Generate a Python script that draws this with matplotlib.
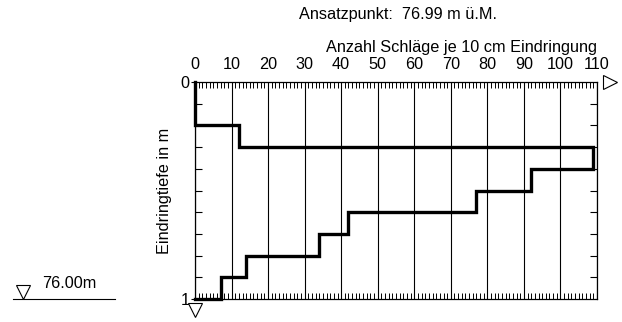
import numpy as np
import matplotlib.pyplot as plt
from matplotlib.ticker import MultipleLocator

plt.rcParams['font.family'] = ['Liberation Sans', 'DejaVu Sans']
plt.rcParams['font.size'] = 11.7

# Schlagzahlen je 10 cm (Tiefe 0.0-1.0 m)
depth_top = [0.0, 0.1, 0.2, 0.3, 0.4, 0.5, 0.6, 0.7, 0.8, 0.9]
depth_bot = [0.1, 0.2, 0.3, 0.4, 0.5, 0.6, 0.7, 0.8, 0.9, 1.0]
blows = [0, 0, 12, 109, 92, 77, 42, 34, 14, 7]
x_ticks = [0, 10, 20, 30, 40, 50, 60, 70, 80, 90, 100, 110]
ansatz = 'Ansatzpunkt:  76.99 m ü.M.'
endhoehe = '76.00m'

fig = plt.figure(figsize=(6.22, 3.22), dpi=100)
ax = fig.add_axes([0.3135, 0.0714, 0.6463, 0.6739])

# Treppenlinie, am Ende zurueck auf die Achse
xs = np.append(np.repeat(blows, 2), 0)
ys = np.append(np.column_stack([depth_top, depth_bot]).ravel(), depth_bot[-1])
ax.plot(xs, ys, color='black', lw=2.4, solid_joinstyle='miter', clip_on=False, zorder=5)

ax.set_xlim(0, 110)
ax.set_ylim(1, 0)
ax.xaxis.tick_top()
ax.xaxis.set_label_position('top')
ax.set_xticks(x_ticks)
ax.xaxis.set_minor_locator(MultipleLocator(1))
ax.tick_params(axis='x', which='major', length=0, pad=7)
ax.tick_params(axis='x', which='minor', direction='in', length=4, width=0.7,
               top=True, bottom=True)
ax.grid(axis='x', which='major', color='black', lw=0.8)
ax.set_yticks([0, 1])
ax.set_yticklabels(['0', '1'])
ax.yaxis.set_minor_locator(MultipleLocator(0.1))
ax.tick_params(axis='y', which='major', direction='out', length=3, pad=1)
ax.tick_params(axis='y', which='minor', direction='in', length=5, width=0.8,
               left=True, right=True)
for s in ax.spines.values():
    s.set_linewidth(0.9)

ax.set_xlabel('Anzahl Schläge je 10 cm Eindringung', loc='right', labelpad=4)
ax.set_ylabel('Eindringtiefe in m', labelpad=6)

# Pfeile (offene Dreiecke)
ax.plot([113.5], [0], marker='>', ms=10.5, mfc='white', mec='black', mew=0.8,
        clip_on=False)
ax.plot([0], [1.05], marker='v', ms=10, mfc='white', mec='black', mew=0.8,
        clip_on=False)

fig.text(0.64, 0.955, ansatz, ha='center', va='center')

# Endtiefe links
fig.text(0.068, 0.12, endhoehe, ha='left', va='center')
fig.add_artist(plt.Line2D([0.021, 0.185], [0.071, 0.071], color='black', lw=0.8))
fig.add_artist(plt.Line2D([0.037], [0.093], marker='v', ms=10, mfc='white',
                          mec='black', mew=0.8))

fig.savefig('out.png', dpi=100)
